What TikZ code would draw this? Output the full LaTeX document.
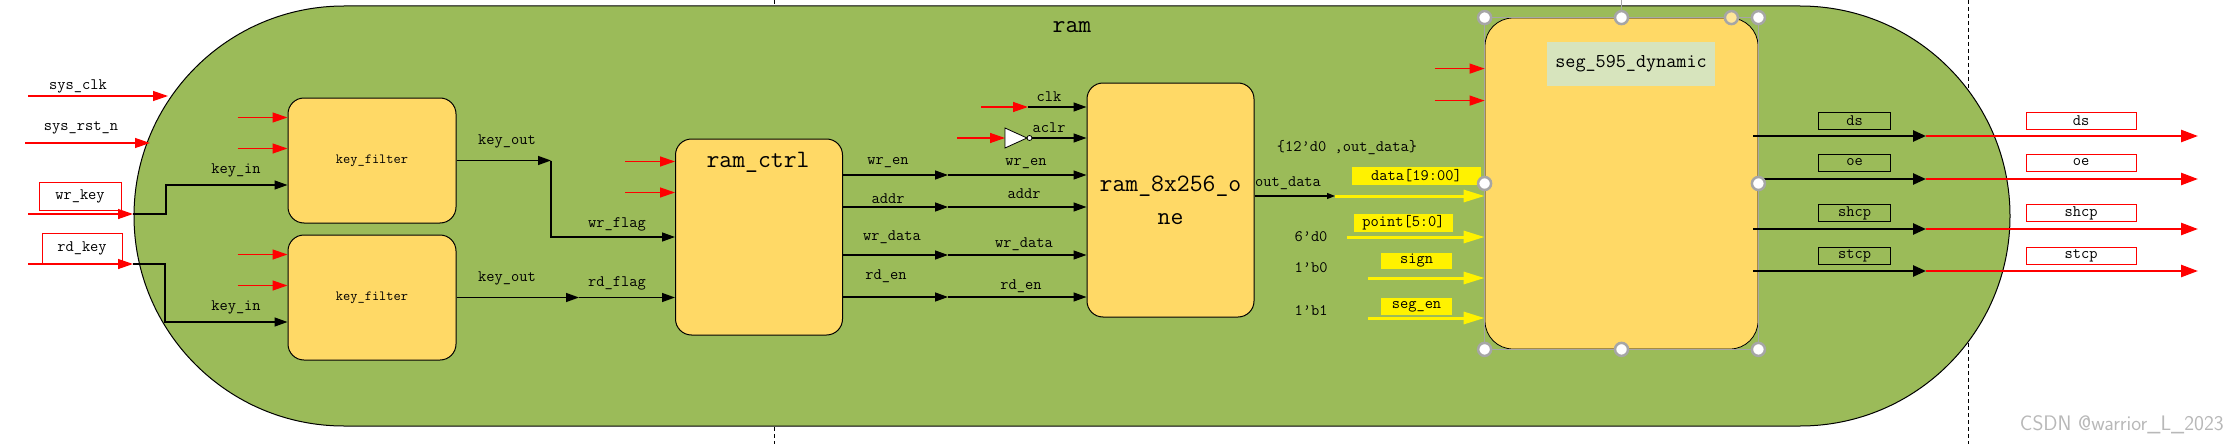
\documentclass[tikz,border=0pt]{standalone}
\usetikzlibrary{arrows.meta}
\definecolor{ramgreen}{HTML}{9BBB59}
\definecolor{blockyellow}{HTML}{FFD966}
\definecolor{seglabel}{HTML}{D7E4BD}
\definecolor{handlegray}{HTML}{A6A6A6}
\definecolor{handleyellow}{HTML}{FFE699}
\definecolor{markgray}{HTML}{B8B8B8}
\tikzset{
  block/.style={draw, fill=blockyellow, rounded corners=16pt, line width=1pt, inner sep=0pt},
  lbl/.style={font=\ttfamily\fontsize{16}{18}\selectfont, inner sep=0pt},
  bigtxt/.style={font=\ttfamily\fontsize{25}{33}\selectfont, inner sep=0pt},
  sig/.style={line width=1.3pt, -{Triangle[length=13pt,width=9pt]}},
  redsig/.style={red, line width=1.3pt, -{Triangle[length=15pt,width=10pt]}},
  outsig/.style={line width=2.5pt, -{Triangle[length=13pt,width=11pt]}},
  redout/.style={red, line width=2.5pt, -{Triangle[length=17pt,width=12pt]}},
  yelsig/.style={yellow, line width=3pt, -{Triangle[length=21pt,width=12pt]}},
  ybox/.style={lbl, fill=yellow, minimum height=18pt},
  pinbox/.style={lbl, draw, line width=1pt, minimum width=72pt, minimum height=17pt},
  handle/.style={circle, draw=handlegray, fill=white, line width=2.5pt, minimum size=13pt, inner sep=0pt}
}

\begin{document}
\begin{tikzpicture}[line cap=butt,line join=miter,x=1pt,y=-1pt]
    \useasboundingbox (0,0) rectangle (2238,444);

    % dashed frame lines behind the module
    \draw[dash pattern=on 4pt off 3pt, line width=1pt] (774,0) -- (774,444);
    \draw[dash pattern=on 4pt off 3pt, line width=1pt] (1968,0) -- (1968,444);

    % top module
    \draw[fill=ramgreen, line width=1pt, rounded corners=210pt] (134,6) rectangle (2010,426);
    \draw(1072,27) node[bigtxt] (ramtitle) {ram};

    % sub modules
    \draw(372,160.5) node[block, minimum width=168pt, minimum height=125pt, font=\ttfamily\fontsize{14}{16}\selectfont] (kfwr) {key\_filter};
    \draw(372,297.5) node[block, minimum width=168pt, minimum height=125pt, font=\ttfamily\fontsize{14}{16}\selectfont] (kfrd) {key\_filter};
    \draw(759,237) node[block, minimum width=167pt, minimum height=196pt] (ctrl) {};
    \draw(758,162) node[bigtxt] (ctrltxt) {ram\_ctrl};
    \draw(1170.5,200) node[block, bigtxt, align=center, minimum width=167pt, minimum height=234pt] (ram) {ram\_8x256\_o\\ne};
    \draw(1621.5,183.5) node[block, line width=0.8pt, rounded corners=28pt, minimum width=273pt, minimum height=331pt] (seg) {};
    \draw[handlegray, line width=1.2pt] (seg.north west) rectangle (seg.south east);
    \draw(1631,64) node[fill=seglabel, minimum width=168pt, minimum height=44pt, inner sep=0pt, font=\ttfamily\fontsize{19.6}{22}\selectfont] (segtxt) {seg\_595\_dynamic};

    % top level inputs
    \coordinate (clkin) at (28,96);   \coordinate (clkport) at (168,96);
    \coordinate (rstin) at (25,143);  \coordinate (rstport) at (150,143);
    \coordinate (wrin) at (28,214);   \coordinate (wrport) at (133,214);
    \coordinate (rdin) at (28,264);   \coordinate (rdport) at (133,264);
    \foreach \src/\dst in {clkin/clkport, rstin/rstport, wrin/wrport, rdin/rdport} {
            \draw[redsig] (\src) -- (\dst);
        }
    \draw(78,86) node[lbl] (lclk) {sys\_clk};
    \draw(81,128) node[lbl] (lrst) {sys\_rst\_n};
    \draw(80,196) node[lbl, draw=red, line width=1pt, minimum width=82pt, minimum height=28pt] (wrkey) {wr\_key};
    \draw(82,248) node[lbl, draw=red, line width=1pt, minimum width=80pt, minimum height=30pt] (rdkey) {rd\_key};

    % key inputs
    \draw[sig] (wrport) -- ++(33,0) |- ([yshift=-24.5pt]kfwr.west);
    \draw[sig] (rdport) -- ++(32,0) |- ([yshift=-24.5pt]kfrd.west);
    \draw(236,170) node[lbl] (lkin1) {key\_in};
    \draw(236,307) node[lbl] (lkin2) {key\_in};

    % red clock / reset stubs
    \foreach \blk/\dy in {kfwr/20, kfwr/51, kfrd/20, kfrd/51, ctrl/23, ctrl/54, seg/51, seg/83} {
            \draw[redsig] ([shift={(-50pt,-\dy pt)}]\blk.north west) -- ([yshift=-\dy pt]\blk.north west);
        }

    % flags
    \coordinate (wrtap) at (551,160.5);
    \coordinate (rdtap) at (579,297.5);
    \draw[sig] (kfwr.east) -- (wrtap);
    \draw[sig] (wrtap) |- (ctrl.west);
    \draw[sig] (kfrd.east) -- (rdtap);
    \draw[sig] (rdtap) -- (ctrl.west |- rdtap);
    \draw(507,141) node[lbl] (lkout1) {key\_out};
    \draw(507,278) node[lbl] (lkout2) {key\_out};
    \draw(617,224) node[lbl] (lwrflag) {wr\_flag};
    \draw(617,283) node[lbl] (lrdflag) {rd\_flag};

    % ram_ctrl to ram
    \foreach \sname/\sy in {wren/175, addr/207, wrdata/255, rden/297} {
            \coordinate (\sname mid) at (948,\sy);
            \draw[sig] (ctrl.east |- \sname mid) -- (\sname mid);
            \draw[sig] (\sname mid) -- (ram.west |- \sname mid);
        }
    \foreach \lx/\ly/\txt [count=\i] in {888/163/wr\_en, 1026/164/wr\_en, 888/199/addr, 1024/194/addr,
            892/237/wr\_data, 1024/244/wr\_data, 886/276/rd\_en, 1021/286/rd\_en} {
            \draw(\lx,\ly) node[lbl] (sl\i) {\txt};
        }

    % clk and inverted aclr
    \coordinate (clksrc) at (981,107);  \coordinate (clkpin) at (1028,107);
    \draw[redsig] (clksrc) -- (clkpin);
    \draw[sig] (clkpin) -- (ram.west |- clkpin);
    \coordinate (aclrsrc) at (957,138); \coordinate (notin) at (1005,138);
    \draw[redsig] (aclrsrc) -- (notin);
    \draw[fill=white, line width=0.8pt] (notin) -- ++(0,-10) -- ++(22,10) -- ++(-22,10) -- cycle;
    \draw[fill=white, line width=0.8pt] (1029.5,138) circle (2.5pt);
    \coordinate (notout) at (1032,138);
    \draw[sig] (notout) -- (ram.west |- notout);
    \draw(1049,97) node[lbl] (lclk2) {clk};
    \draw(1049,128) node[lbl] (laclr) {aclr};

    % ram to seg_595_dynamic
    \coordinate (odtap) at (1335,196);
    \draw[line width=1.3pt, -{Triangle[length=8pt,width=6pt]}] (ram.east |- odtap) -- (odtap);
    \draw[yelsig] (odtap) -- (seg.west |- odtap);
    \foreach \sname/\sx/\sy in {pt/1347/237, sgn/1368/278, en/1368/318} {
            \coordinate (\sname src) at (\sx,\sy);
            \draw[yelsig] (\sname src) -- (seg.west |- \sname src);
        }
    \draw(1288,183) node[lbl] (lodata) {out\_data};
    \draw(1347,148) node[lbl] (lcat) {\{12’d0 ,out\_data\}};
    \draw(1416.5,176) node[ybox, minimum width=129pt] (ydata) {data[19:00]};
    \draw(1403.5,223) node[ybox, minimum width=99pt] (ypoint) {point[5:0]};
    \draw(1416.5,261) node[ybox, minimum width=71pt, minimum height=16pt] (ysign) {sign};
    \draw(1416.5,306.5) node[ybox, minimum width=71pt, minimum height=17pt] (yen) {seg\_en};
    \draw(1311,237) node[lbl] (lc6) {6’d0};
    \draw(1311,268) node[lbl] (lc0) {1’b0};
    \draw(1311,311) node[lbl] (lc1) {1’b1};

    % outputs
    \foreach \oname/\oy/\ly in {ds/136/120.5, oe/179/162.5, shcp/229/213, stcp/271/255.5} {
            \coordinate (\oname tap) at (1926,\oy);
            \coordinate (\oname pin) at (2198,\oy);
            \draw[outsig] ([xshift=-5pt]seg.east |- \oname tap) -- (\oname tap);
            \draw[redout] (\oname tap) -- (\oname pin);
            \draw(1854.5,\ly) node[pinbox] (\oname in) {\oname};
            \draw(2081,\ly) node[pinbox, draw=red, minimum width=110pt] (\oname out) {\oname};
        }

    % selection handles
    \draw[handlegray, line width=1pt] (seg.north) -- ++(0,-18);
    \foreach \anc [count=\i] in {north west, north, north east, west, east, south west, south, south east} {
            \draw(seg.\anc) node[handle] (hdl\i) {};
        }
    \draw([xshift=-27pt]seg.north east) node[handle, fill=handleyellow] (hdlrot) {};

    % watermark
    \draw(2224,425) node[anchor=east, inner sep=0pt, text=markgray, font=\sffamily\fontsize{21}{24}\selectfont] (mark) {CSDN @warrior\_L\_2023};
\end{tikzpicture}
\end{document}
